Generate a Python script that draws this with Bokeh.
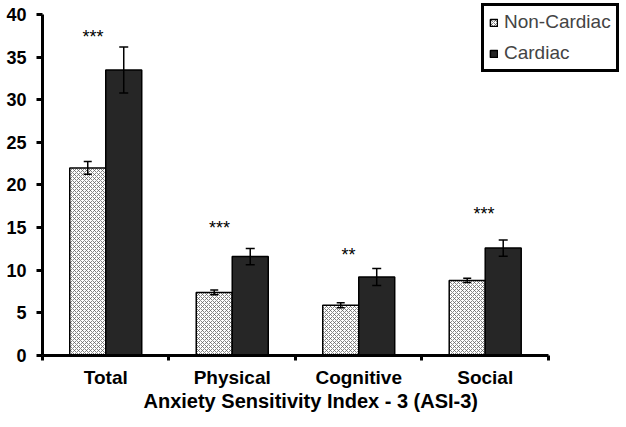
from bokeh.plotting import figure
from bokeh.models import (ColumnDataSource, Whisker, TeeHead, FixedTicker, Legend,
                          LegendItem, Title, Range1d)
from bokeh.embed import file_html
from bokeh.resources import INLINE
from bokeh.core.properties import value

categories = ["Total", "Physical", "Cognitive", "Social"]
noncardiac_mean = [22.0, 7.4, 5.9, 8.8]
noncardiac_err = [0.75, 0.27, 0.3, 0.25]
cardiac_mean = [33.5, 11.6, 9.2, 12.6]
cardiac_err = [2.7, 0.95, 1.0, 0.95]
sig_labels = ["***", "***", "**", "***"]
sig_x = [0.40, 1.40, 2.42, 3.49]
sig_y = [37.4, 15.0, 11.8, 16.6]
y_ticks = [0, 5, 10, 15, 20, 25, 30, 35, 40]
x_title = "Anxiety Sensitivity Index - 3 (ASI-3)"

FONT = "Liberation Sans"
BW = 0.2846

centers = [i + 0.5 for i in range(len(categories))]
nc_src = ColumnDataSource(dict(
    x=[c - BW / 2 for c in centers], top=noncardiac_mean,
    upper=[m + e for m, e in zip(noncardiac_mean, noncardiac_err)],
    lower=[m - e for m, e in zip(noncardiac_mean, noncardiac_err)]))
c_src = ColumnDataSource(dict(
    x=[c + BW / 2 for c in centers], top=cardiac_mean,
    upper=[m + e for m, e in zip(cardiac_mean, cardiac_err)],
    lower=[m - e for m, e in zip(cardiac_mean, cardiac_err)]))
sig_src = ColumnDataSource(dict(x=sig_x, y=sig_y, t=sig_labels))

# frame extends past the axes so the legend (which sits outside them) is not clipped
p = figure(width=626, height=427, x_range=Range1d(0, 4.617), y_range=Range1d(0, 41.64),
           output_backend="svg", toolbar_location=None,
           min_border_left=42, min_border_right=0, min_border_top=0, min_border_bottom=72)
p.outline_line_color = None
p.xgrid.visible = False
p.ygrid.visible = False
p.background_fill_color = "white"
p.border_fill_color = "white"

r1 = p.vbar(x="x", top="top", width=BW, bottom=0, source=nc_src,
            fill_color="white", line_color="black", line_width=1.5,
            hatch_pattern="diagonal_cross", hatch_color="#666666",
            hatch_scale=4, hatch_weight=0.8)
r2 = p.vbar(x="x", top="top", width=BW, bottom=0, source=c_src,
            fill_color="#262626", line_color="black", line_width=1.5)

for src, cap in ((nc_src, 8), (c_src, 9)):
    w = Whisker(source=src, base="x", upper="upper", lower="lower",
                line_color="black", line_width=1.5, level="overlay",
                upper_head=TeeHead(size=cap, line_width=1.5, line_color="black"),
                lower_head=TeeHead(size=cap, line_width=1.5, line_color="black"))
    p.add_layout(w)

p.text(x="x", y="y", text="t", source=sig_src, text_align="center",
       text_baseline="alphabetic", text_font=value(FONT), text_font_size="18px",
       text_color="black")

# y axis
ya = p.yaxis[0]
ya.bounds = (0, 40)
ya.ticker = FixedTicker(ticks=y_ticks, minor_ticks=[])
ya.axis_line_width = 3
ya.major_tick_line_width = 3
ya.major_tick_out = 6
ya.major_tick_in = 0
ya.minor_tick_line_color = None
ya.major_label_text_font = FONT
ya.major_label_text_font_size = "18px"
ya.major_label_text_font_style = "bold"
ya.major_label_text_color = "black"
ya.major_label_standoff = 10

# x axis
xa = p.xaxis[0]
xa.bounds = (0, 4)
xa.ticker = FixedTicker(ticks=centers, minor_ticks=[0, 1, 2, 3, 4])
xa.major_label_overrides = {c: n for c, n in zip(centers, categories)}
xa.axis_line_width = 3
xa.major_tick_line_color = None
xa.major_tick_out = 0
xa.major_tick_in = 0
xa.minor_tick_line_width = 3
xa.minor_tick_out = 5
xa.minor_tick_in = 0
xa.minor_tick_line_color = "black"
xa.major_label_text_font = FONT
xa.major_label_text_font_size = "19px"
xa.major_label_text_font_style = "bold"
xa.major_label_text_color = "black"
xa.major_label_standoff = 6

t = Title(text=x_title, align="left", text_font=FONT, text_font_size="20px",
          text_font_style="bold", text_color="black", offset=101, standoff=-6)
p.add_layout(t, "below")

legend = Legend(items=[LegendItem(label="Non-Cardiac", renderers=[r1]),
                       LegendItem(label="Cardiac", renderers=[r2])],
                location=(439, 283), border_line_color="black", border_line_width=3,
                border_line_alpha=1.0,
                label_text_font=FONT, label_text_font_size="19px",
                glyph_width=9, glyph_height=9, padding=5, spacing=9,
                label_height=20, label_standoff=6, margin=0,
                background_fill_color="white", background_fill_alpha=1)
p.add_layout(legend)

open("out.html", "w").write(file_html(p, INLINE))
